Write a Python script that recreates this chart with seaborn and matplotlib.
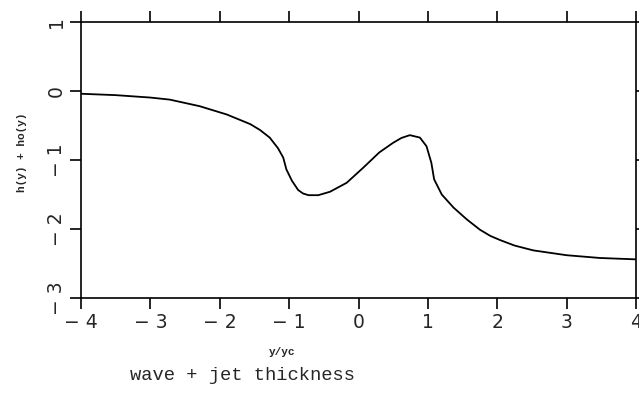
import matplotlib
matplotlib.use("Agg")
import matplotlib.pyplot as plt
import seaborn as sns
import pandas as pd

y_over_yc = [-4.0, -3.5, -3.0, -2.72, -2.29, -1.90, -1.56, -1.42, -1.28, -1.16, -1.085, -1.04,
             -0.96, -0.87, -0.80, -0.72, -0.58, -0.41, -0.17, 0.07, 0.30, 0.50, 0.62, 0.74,
             0.885, 0.98, 1.05, 1.09, 1.20, 1.37, 1.56, 1.75, 1.90, 2.04, 2.25, 2.52, 3.00,
             3.48, 4.0]
thickness = [-0.04, -0.06, -0.095, -0.125, -0.22, -0.34, -0.48, -0.565, -0.675, -0.83, -0.965, -1.135,
             -1.30, -1.435, -1.485, -1.51, -1.51, -1.46, -1.33, -1.11, -0.89, -0.75, -0.68, -0.64,
             -0.675, -0.80, -1.04, -1.28, -1.50, -1.69, -1.86, -2.01, -2.10, -2.16, -2.24, -2.31, -2.38,
             -2.42, -2.44]
x_ticks = [-4, -3, -2, -1, 0, 1, 2, 3, 4]
x_tick_labels = ["− 4", "− 3", "− 2", "− 1", "0", "1", "2", "3", "4"]
y_ticks = [-3, -2, -1, 0, 1]
y_tick_labels = ["− 3", "− 2", "− 1", "0", "1"]

df = pd.DataFrame({"x": y_over_yc, "y": thickness})

sns.set_style("ticks")
fig = plt.figure(figsize=(6.39, 4.11), dpi=100)
ax = fig.add_axes([81/639, 1-298/411, (636-81)/639, (298-22)/411])
sns.lineplot(data=df, x="x", y="y", ax=ax, color="black", lw=1.3, sort=False)

ax.set_xlim(-4, 4)
ax.set_ylim(-3, 1)
ax.set_xticks(x_ticks)
ax.set_xticklabels(x_tick_labels, fontsize=13.5, family="DejaVu Sans")
ax.set_yticks(y_ticks)
ax.set_yticklabels(y_tick_labels, fontsize=13.5, family="DejaVu Sans", rotation=90, va="center")
ax.tick_params(axis="both", direction="out", length=8, width=1.2, color="black", pad=3)
ax.tick_params(axis="x", top=True, labeltop=False)
ax.tick_params(axis="y", right=True, labelright=False)
for s in ax.spines.values():
    s.set_linewidth(1.2)
    s.set_color("black")
ax.set_xlabel("")
ax.set_ylabel("")

fig.text(282/639, 1-352/411, "y/yc", ha="center", va="center", fontsize=8,
         fontweight="bold", family="Liberation Mono")
fig.text(22/639, 1-152/411, "h(y) + ho(y)", ha="center", va="center", fontsize=8,
         fontweight="bold", family="Liberation Mono", rotation=90)
fig.text(130/639, 1-375/411, "wave + jet thickness", ha="left", va="center", fontsize=13.5,
         family="Liberation Mono")

fig.savefig("out.png", dpi=100)
